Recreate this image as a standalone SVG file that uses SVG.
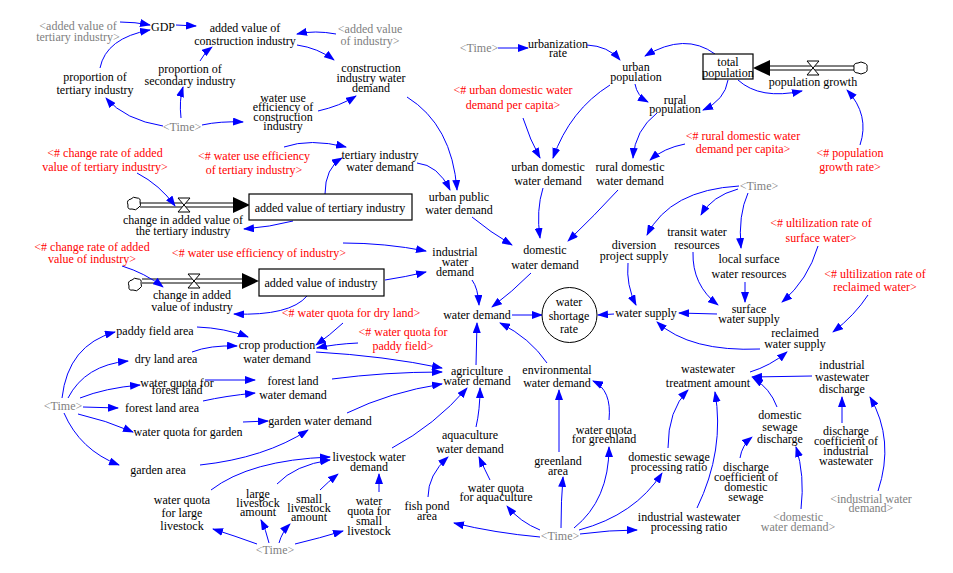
<svg xmlns="http://www.w3.org/2000/svg" width="953" height="573" viewBox="0 0 953 573" font-family="'Liberation Serif', 'Times New Roman', 'DejaVu Serif', serif">
<defs>
<marker id="ah" markerWidth="11" markerHeight="8" refX="10" refY="4" orient="auto" markerUnits="userSpaceOnUse"><path d="M0,0 L11,4 L0,8 z" fill="#0000ff"/></marker>
<style>
text{font-family:'Liberation Serif','Times New Roman','DejaVu Serif',serif;font-size:12px;text-anchor:middle;fill:#000}
.r{fill:#ff0000}
.g{fill:#808080}
.c{fill:none;stroke:#0000ff;stroke-width:1;marker-end:url(#ah)}
.box{fill:#fff;stroke:#000;stroke-width:1.2}
.pipe{fill:none;stroke:#000;stroke-width:1}
.valve{fill:#fff;stroke:#000;stroke-width:1}
.cloud{fill:#fff;stroke:#000;stroke-width:1}
</style>
</defs>
<rect width="953" height="573" fill="#fff"/>

<g id="flows">
<path class="cloud" d="M128,205 q-2,-5 3,-6 q2,-3 6,-1 q4,0 3,4 q2,4 -2,6 q-2,3 -6,1 q-5,1 -4,-4 z"/>
<path class="pipe" d="M140,203 L238,203 M140,207 L238,207"/>
<polygon points="233,197 250,205 233,213" fill="#000"/>
<path class="valve" d="M178,198 L190,198 L178,212 L190,212 Z"/>
<path class="cloud" d="M129,286 q-2,-5 3,-6 q2,-3 6,-1 q4,0 3,4 q2,4 -2,6 q-2,3 -6,1 q-5,1 -4,-4 z"/>
<path class="pipe" d="M142,279 L247,279 M142,283 L247,283"/>
<polygon points="242,273 259,281 242,289" fill="#000"/>
<path class="valve" d="M188,274 L200,274 L188,288 L200,288 Z"/>
<path class="cloud" d="M854,68 q-1,-5 4,-5 q3,-2 6,0 q4,1 3,5 q1,4 -3,5 q-3,2 -6,0 q-5,0 -4,-5 z"/>
<path class="pipe" d="M854,66 L765,66 M854,70 L765,70"/>
<polygon points="770,60 753,68 770,76" fill="#000"/>
<path class="valve" d="M807,61 L819,61 L807,75 L819,75 Z"/>
</g>

<g id="connectors">
<path class="c" d="M120,22 Q135,22 150,25"/>
<path class="c" d="M100,68 Q106,38 150,30"/>
<path class="c" d="M176,25 L196,26"/>
<path class="c" d="M200,61 Q204,53 212,47"/>
<path class="c" d="M163,126 Q125,120 106,98"/>
<path class="c" d="M181,118 Q179,100 183,87"/>
<path class="c" d="M202,125 Q220,121 243,122"/>
<path class="c" d="M297,45 Q318,48 334,60"/>
<path class="c" d="M336,34 Q315,30 297,34"/>
<path class="c" d="M318,111 Q340,106 356,96"/>
<path class="c" d="M407,97 Q452,125 457,190"/>
<path class="c" d="M417,163 Q438,165 450,190"/>
<path class="c" d="M284,147 Q310,138 346,147"/>
<path class="c" d="M325,194 Q325,168 342,158"/>
<path class="c" d="M137,173 Q160,185 175,206"/>
<path class="c" d="M293,221 Q270,227 244,229"/>
<path class="c" d="M122,266 Q145,273 163,287"/>
<path class="c" d="M307,296 Q290,316 234,314"/>
<path class="c" d="M343,243 Q385,243 426,251"/>
<path class="c" d="M385,280 Q405,277 426,272"/>
<path class="c" d="M472,280 Q478,288 479,305"/>
<path class="c" d="M472,217 Q490,232 512,245"/>
<path class="c" d="M543,188 Q536,210 540,238"/>
<path class="c" d="M618,190 Q595,215 568,241"/>
<path class="c" d="M531,273 Q512,292 492,307"/>
<path class="c" d="M512,315 L542,315"/>
<path class="c" d="M614,314 L598,315"/>
<path class="c" d="M476,365 L477,323"/>
<path class="c" d="M547,363 Q530,338 500,323"/>
<path class="c" d="M343,323 Q330,335 316,345"/>
<path class="c" d="M358,343 Q335,344 317,348"/>
<path class="c" d="M316,352 Q385,356 442,368"/>
<path class="c" d="M332,379 Q385,372 442,372"/>
<path class="c" d="M347,413 Q390,392 442,384"/>
<path class="c" d="M392,448 Q435,425 467,388"/>
<path class="c" d="M476,427 Q480,410 480,388"/>
<path class="c" d="M559,452 L559,390"/>
<path class="c" d="M609,420 Q612,390 593,381"/>
<path class="c" d="M428,497 Q428,475 448,457"/>
<path class="c" d="M490,480 Q485,470 479,457"/>
<path class="c" d="M540,537 Q495,533 454,523"/>
<path class="c" d="M540,530 Q520,522 507,506"/>
<path class="c" d="M561,528 Q561,500 563,477"/>
<path class="c" d="M574,528 Q609,500 609,447"/>
<path class="c" d="M579,530 Q635,515 662,473"/>
<path class="c" d="M580,534 Q610,530 637,530"/>
<path class="c" d="M668,448 Q668,410 688,390"/>
<path class="c" d="M697,508 Q725,450 715,392"/>
<path class="c" d="M812,376 L752,377"/>
<path class="c" d="M777,407 Q770,388 753,378"/>
<path class="c" d="M740,458 Q742,445 752,437"/>
<path class="c" d="M801,509 Q805,475 796,447"/>
<path class="c" d="M842,423 L842,397"/>
<path class="c" d="M878,491 Q895,440 870,397"/>
<path class="c" d="M750,372 Q770,366 787,352"/>
<path class="c" d="M760,349 Q690,352 657,322"/>
<path class="c" d="M868,295 Q855,315 833,332"/>
<path class="c" d="M818,246 Q808,280 782,302"/>
<path class="c" d="M717,314 L679,313"/>
<path class="c" d="M745,282 L745,302"/>
<path class="c" d="M693,252 Q692,285 718,305"/>
<path class="c" d="M628,263 Q626,285 636,305"/>
<path class="c" d="M739,186 Q670,190 647,235"/>
<path class="c" d="M738,189 Q712,196 701,215"/>
<path class="c" d="M748,193 Q738,215 741,248"/>
<path class="c" d="M498,48 L528,48"/>
<path class="c" d="M587,45 Q608,46 620,60"/>
<path class="c" d="M715,54 Q685,32 645,56"/>
<path class="c" d="M635,84 Q637,96 648,102"/>
<path class="c" d="M728,80 Q725,100 703,110"/>
<path class="c" d="M738,80 Q760,100 802,91"/>
<path class="c" d="M860,145 Q870,115 847,90"/>
<path class="c" d="M610,85 Q570,110 553,158"/>
<path class="c" d="M523,118 Q530,140 540,158"/>
<path class="c" d="M657,113 Q635,130 633,158"/>
<path class="c" d="M685,144 Q664,148 650,160"/>
<path class="c" d="M62,398 Q68,345 115,332"/>
<path class="c" d="M68,398 Q85,365 128,361"/>
<path class="c" d="M80,398 Q105,388 140,385"/>
<path class="c" d="M83,407 L118,408"/>
<path class="c" d="M78,414 Q105,420 133,432"/>
<path class="c" d="M64,413 Q80,450 119,465"/>
<path class="c" d="M197,327 Q225,328 248,337"/>
<path class="c" d="M192,352 Q210,345 237,346"/>
<path class="c" d="M205,380 L255,380"/>
<path class="c" d="M203,401 Q225,396 255,393"/>
<path class="c" d="M243,422 L268,421"/>
<path class="c" d="M200,465 Q265,458 308,430"/>
<path class="c" d="M211,490 Q250,460 330,457"/>
<path class="c" d="M277,484 Q295,465 330,460"/>
<path class="c" d="M320,490 Q328,482 338,474"/>
<path class="c" d="M379,492 L379,474"/>
<path class="c" d="M257,544 Q235,536 213,529"/>
<path class="c" d="M269,543 Q266,530 261,520"/>
<path class="c" d="M279,543 Q282,532 290,524"/>
<path class="c" d="M295,544 Q320,538 343,531"/>
</g>

<g id="av_tert_shadow"><text class="g"><tspan x="78" y="30">&lt;added value of</tspan><tspan x="78" y="41">tertiary industry&gt;</tspan></text></g>
<g id="gdp"><text x="163" y="31">GDP</text></g>
<g id="av_constr"><text><tspan x="245" y="32">added value of</tspan><tspan x="245" y="45">construction industry</tspan></text></g>
<g id="av_ind_shadow"><text class="g"><tspan x="370" y="33">&lt;added value</tspan><tspan x="370" y="45">of industry&gt;</tspan></text></g>
<g id="prop_tert"><text><tspan x="95" y="81">proportion of</tspan><tspan x="95" y="94">tertiary industry</tspan></text></g>
<g id="prop_sec"><text><tspan x="190" y="73">proportion of</tspan><tspan x="190" y="85">secondary industry</tspan></text></g>
<g id="wue_constr"><text><tspan x="283" y="102">water use</tspan><tspan x="283" y="111">efficiency of</tspan><tspan x="283" y="121">construction</tspan><tspan x="283" y="130">industry</tspan></text></g>
<g id="time1"><text class="g" x="182" y="131">&lt;Time&gt;</text></g>
<g id="cr_tert"><text class="r"><tspan x="105" y="157">&lt;# change rate of added</tspan><tspan x="105" y="171">value of tertiary industry&gt;</tspan></text></g>
<g id="wue_tert"><text class="r"><tspan x="254" y="160">&lt;# water use efficiency</tspan><tspan x="254" y="174">of tertiary industry&gt;</tspan></text></g>
<g id="constr_wd"><text><tspan x="371" y="72">construction</tspan><tspan x="371" y="82">industry water</tspan><tspan x="371" y="92">demand</tspan></text></g>
<g id="time2"><text class="g" x="479" y="52">&lt;Time&gt;</text></g>
<g id="urb_rate"><text><tspan x="558" y="48">urbanization</tspan><tspan x="558" y="57">rate</tspan></text></g>
<g id="urban_pop"><text><tspan x="636" y="71">urban</tspan><tspan x="636" y="81">population</tspan></text></g>
<g id="udw_pc"><text class="r"><tspan x="513" y="94">&lt;# urban domestic water</tspan><tspan x="513" y="109">demand per capita&gt;</tspan></text></g>
<g id="urban_dwd"><text><tspan x="548" y="171">urban domestic</tspan><tspan x="548" y="185">water demand</tspan></text></g>
<g id="rural_dwd"><text><tspan x="630" y="171">rural domestic</tspan><tspan x="630" y="185">water demand</tspan></text></g>
<g id="total_pop"><rect class="box" x="703" y="54" width="50" height="25"/><text><tspan x="728" y="66">total</tspan><tspan x="728" y="77">population</tspan></text></g>
<g id="pop_growth"><text x="813" y="86">population growth</text></g>
<g id="rural_pop"><text><tspan x="675" y="104">rural</tspan><tspan x="675" y="113">population</tspan></text></g>
<g id="rdw_pc"><text class="r"><tspan x="743" y="140">&lt;# rural domestic water</tspan><tspan x="743" y="153">demand per capita&gt;</tspan></text></g>
<g id="pgr"><text class="r"><tspan x="850" y="157">&lt;# population</tspan><tspan x="850" y="171">growth rate&gt;</tspan></text></g>
<g id="time3"><text class="g" x="759" y="190">&lt;Time&gt;</text></g>
<g id="av_tert"><rect class="box" x="249" y="194" width="163" height="26"/><text x="330" y="212">added value of tertiary industry</text></g>
<g id="ch_av_tert"><text><tspan x="183" y="224">change in added value of</tspan><tspan x="183" y="235">the tertiary industry</tspan></text></g>
<g id="tert_wd"><text><tspan x="380" y="159">tertiary industry</tspan><tspan x="380" y="171">water demand</tspan></text></g>
<g id="urban_pub"><text><tspan x="459" y="201">urban public</tspan><tspan x="459" y="214">water demand</tspan></text></g>
<g id="cr_ind"><text class="r"><tspan x="92" y="251">&lt;# change rate of added</tspan><tspan x="92" y="263">value of industry&gt;</tspan></text></g>
<g id="wue_ind"><text class="r" x="259" y="257">&lt;# water use efficiency of industry&gt;</text></g>
<g id="av_ind"><rect class="box" x="259" y="269" width="125" height="27"/><text x="321" y="287">added value of industry</text></g>
<g id="ch_av_ind"><text><tspan x="192" y="299">change in added</tspan><tspan x="192" y="311">value of industry</tspan></text></g>
<g id="ind_wd"><text><tspan x="455" y="256">industrial</tspan><tspan x="455" y="266">water</tspan><tspan x="455" y="276">demand</tspan></text></g>
<g id="dom_wd"><text><tspan x="545" y="254">domestic</tspan><tspan x="545" y="269">water demand</tspan></text></g>
<g id="water_demand"><text x="477" y="319">water demand</text></g>
<g id="wsr"><circle cx="569.5" cy="315" r="27.5" fill="#fff" stroke="#000" stroke-width="1"/><text><tspan x="569" y="306">water</tspan><tspan x="569" y="320">shortage</tspan><tspan x="569" y="333">rate</tspan></text></g>
<g id="water_supply"><text x="646" y="317">water supply</text></g>
<g id="diversion"><text><tspan x="634" y="249">diversion</tspan><tspan x="634" y="260">project supply</tspan></text></g>
<g id="transit"><text><tspan x="697" y="236">transit water</tspan><tspan x="697" y="249">resources</tspan></text></g>
<g id="local_surf"><text><tspan x="749" y="263">local surface</tspan><tspan x="749" y="278">water resources</tspan></text></g>
<g id="surf_supply"><text><tspan x="749" y="313">surface</tspan><tspan x="749" y="323">water supply</tspan></text></g>
<g id="ur_surf"><text class="r"><tspan x="821" y="227">&lt;# ultilization rate of</tspan><tspan x="821" y="242">surface water&gt;</tspan></text></g>
<g id="ur_recl"><text class="r"><tspan x="875" y="278">&lt;# ultilization rate of</tspan><tspan x="875" y="291">reclaimed water&gt;</tspan></text></g>
<g id="recl_supply"><text><tspan x="795" y="337">reclaimed</tspan><tspan x="795" y="348">water supply</tspan></text></g>
<g id="ww_treat"><text><tspan x="708" y="373">wastewater</tspan><tspan x="708" y="387">treatment amount</tspan></text></g>
<g id="ind_ww_dis"><text><tspan x="842" y="369">industrial</tspan><tspan x="842" y="381">wastewater</tspan><tspan x="842" y="393">discharge</tspan></text></g>
<g id="dom_sew_dis"><text><tspan x="780" y="419">domestic</tspan><tspan x="780" y="431">sewage</tspan><tspan x="780" y="443">discharge</tspan></text></g>
<g id="dc_ind"><text><tspan x="846" y="435">discharge</tspan><tspan x="846" y="445">coefficient of</tspan><tspan x="846" y="455">industrial</tspan><tspan x="846" y="465">wastewater</tspan></text></g>
<g id="dc_dom"><text><tspan x="746" y="471">discharge</tspan><tspan x="746" y="481">coefficient of</tspan><tspan x="746" y="491">domestic</tspan><tspan x="746" y="501">sewage</tspan></text></g>
<g id="dsp_ratio"><text><tspan x="669" y="461">domestic sewage</tspan><tspan x="669" y="471">processing ratio</tspan></text></g>
<g id="iwp_ratio"><text><tspan x="689" y="521">industrial wastewater</tspan><tspan x="689" y="531">processing ratio</tspan></text></g>
<g id="dom_wd_shadow"><text class="g"><tspan x="798" y="521">&lt;domestic</tspan><tspan x="798" y="531">water demand&gt;</tspan></text></g>
<g id="ind_wd_shadow"><text class="g"><tspan x="871" y="503">&lt;industrial water</tspan><tspan x="871" y="512">demand&gt;</tspan></text></g>
<g id="env_wd"><text><tspan x="557" y="374">environmental</tspan><tspan x="557" y="387">water demand</tspan></text></g>
<g id="agri_wd"><text><tspan x="477" y="375">agriculture</tspan><tspan x="477" y="385">water demand</tspan></text></g>
<g id="aqua_wd"><text><tspan x="470" y="439">aquaculture</tspan><tspan x="470" y="453">water demand</tspan></text></g>
<g id="greenland"><text><tspan x="558" y="465">greenland</tspan><tspan x="558" y="475">area</tspan></text></g>
<g id="wq_green"><text><tspan x="604" y="434">water quota</tspan><tspan x="604" y="443">for greenland</tspan></text></g>
<g id="wq_aqua"><text><tspan x="496" y="492">water quota</tspan><tspan x="496" y="501">for aquaculture</tspan></text></g>
<g id="fish_pond"><text><tspan x="427" y="510">fish pond</tspan><tspan x="427" y="520">area</tspan></text></g>
<g id="time4"><text class="g" x="560" y="540">&lt;Time&gt;</text></g>
<g id="livestock_wd"><text><tspan x="369" y="461">livestock water</tspan><tspan x="369" y="471">demand</tspan></text></g>
<g id="wq_small"><text><tspan x="369" y="505">water</tspan><tspan x="369" y="515">quota for</tspan><tspan x="369" y="525">small</tspan><tspan x="369" y="535">livestock</tspan></text></g>
<g id="large_amt"><text><tspan x="258" y="498">large</tspan><tspan x="258" y="507">livestock</tspan><tspan x="258" y="516">amount</tspan></text></g>
<g id="small_amt"><text><tspan x="309" y="503">small</tspan><tspan x="309" y="512">livestock</tspan><tspan x="309" y="521">amount</tspan></text></g>
<g id="wq_large"><text><tspan x="182" y="504">water quota</tspan><tspan x="182" y="517">for large</tspan><tspan x="182" y="530">livestock</tspan></text></g>
<g id="time5"><text class="g" x="275" y="554">&lt;Time&gt;</text></g>
<g id="time6"><text class="g" x="63" y="410">&lt;Time&gt;</text></g>
<g id="wq_forest"><text><tspan x="177" y="387">water quota for</tspan><tspan x="177" y="394">forest land</tspan></text></g>
<g id="forest_area"><text x="162" y="412">forest land area</text></g>
<g id="wq_garden"><text x="188" y="436">water quota for garden</text></g>
<g id="garden_area"><text x="158" y="474">garden area</text></g>
<g id="crop_wd"><text><tspan x="277" y="349">crop production</tspan><tspan x="277" y="363">water demand</tspan></text></g>
<g id="paddy"><text x="155" y="335">paddy field area</text></g>
<g id="dry"><text x="166" y="363">dry land area</text></g>
<g id="forest_wd"><text><tspan x="293" y="385">forest land</tspan><tspan x="293" y="399">water demand</tspan></text></g>
<g id="garden_wd"><text x="320" y="425">garden water demand</text></g>
<g id="wq_dry"><text class="r" x="351" y="317">&lt;# water quota for dry land&gt;</text></g>
<g id="wq_paddy"><text class="r"><tspan x="403" y="336">&lt;# water quota for</tspan><tspan x="403" y="350">paddy field&gt;</tspan></text></g>
</svg>
